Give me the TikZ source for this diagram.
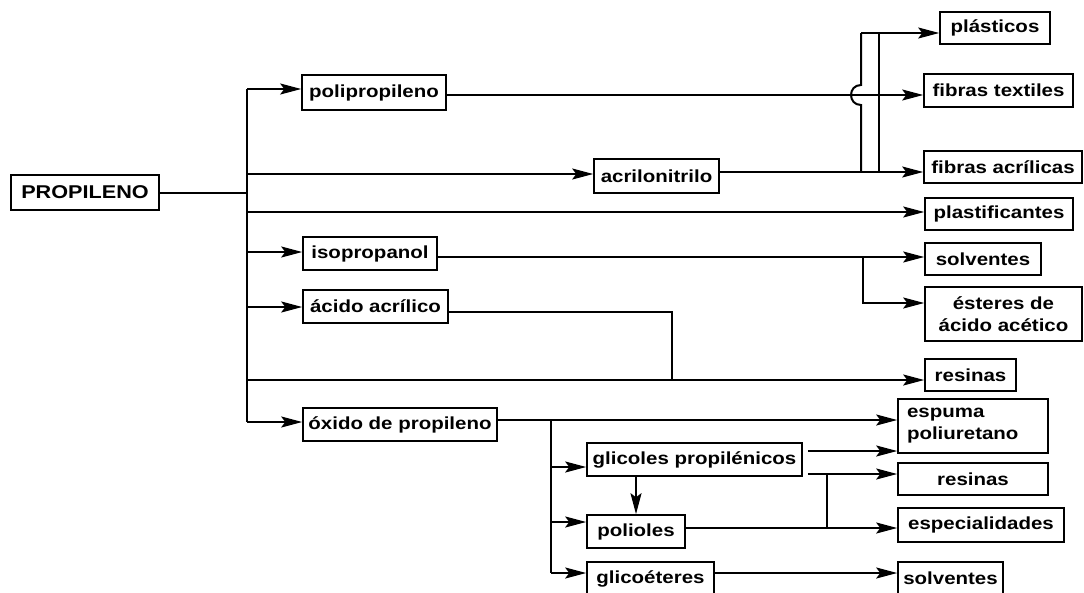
\documentclass[tikz,border=0pt]{standalone}
\usepackage{fontspec}
\setmainfont{Liberation Sans}[FakeStretch=1.17]
\usetikzlibrary{arrows.meta}
\begin{document}
\begin{tikzpicture}[x=1pt,y=-1pt,
  box/.style={draw, line width=1.6pt, inner sep=0pt,
    font=\fontsize{17.5}{22}\selectfont\bfseries},
  wire/.style={line width=2pt},
  arr/.style={wire, -{Stealth[length=21pt,width=11pt,inset=4pt]}},
]
\fill[white] (0,0) rectangle (1084,592);
\useasboundingbox (0,0) rectangle (1084,592);

% ---- raw material and first products
\node[box, minimum width=148pt, minimum height=35pt, font=\fontsize{18.5}{22}\selectfont\bfseries] (prop) at (85,192.5) {PROPILENO};
\node[box, minimum width=144pt, minimum height=35pt] (pp)  at (374,92.5)  {polipropileno};
\node[box, minimum width=125pt, minimum height=34pt] (acn) at (656.5,176) {acrilonitrilo};
\node[box, minimum width=134pt, minimum height=33pt] (iso) at (370,253.5) {isopropanol};
\node[box, minimum width=145pt, minimum height=33pt] (aa)  at (375.5,306.5) {ácido acrílico};
\node[box, minimum width=194pt, minimum height=33pt] (ox)  at (400,424.5) {óxido de propileno};

% ---- derivatives of propylene oxide
\node[box, minimum width=215pt, minimum height=33pt] (gp)  at (694.5,459.5) {glicoles propilénicos};
\node[box, minimum width=98pt,  minimum height=33pt] (pol) at (636,531.5) {polioles};
\node[box, minimum width=127pt, minimum height=33pt] (ge)  at (650.5,578.5) {glicoéteres};

% ---- end uses
\node[box, minimum width=110pt, minimum height=32pt] (pla)  at (995,28)     {plásticos};
\node[box, minimum width=149pt, minimum height=33pt] (ft)   at (998.5,90.5) {fibras textiles};
\node[box, minimum width=158pt, minimum height=32pt] (fa)   at (1003,167)   {fibras acrílicas};
\node[box, minimum width=148pt, minimum height=32pt] (pf)   at (999,214)    {plastificantes};
\node[box, minimum width=116pt, minimum height=32pt] (sv1)  at (983,259)    {solventes};
\node[box, minimum width=157pt, minimum height=54pt, align=center] (est) at (1003.5,314) {ésteres de\\ácido acético};
\node[box, minimum width=91pt,  minimum height=32pt] (res1) at (970.5,375)  {resinas};
\node[box, minimum width=150pt, minimum height=54pt, text width=132pt, align=left] (esp) at (973,426) {espuma\\poliuretano};
\node[box, minimum width=150pt, minimum height=32pt] (res2) at (973,479)    {resinas};
\node[box, minimum width=166pt, minimum height=34pt] (espc) at (981,525)    {especialidades};
\node[box, minimum width=105pt, minimum height=33pt] (sv2)  at (950.5,578.5) {solventes};

% ---- main trunk
\coordinate (tTop) at (247,89);
\coordinate (tBot) at (247,422);
\coordinate (t2) at (247,174);
\coordinate (t3) at (247,212);
\coordinate (t4) at (247,252);
\coordinate (t5) at (247,307);
\coordinate (t6) at (247,380);
\draw[wire] (prop.east) -- (prop.east -| tTop);
\draw[wire] (tTop) -- (tBot);
\draw[arr] (tTop) -- (tTop -| pp.west);
\draw[arr] (t2) -- (t2 -| acn.west);
\draw[arr] (t3) -- (t3 -| pf.west);
\draw[arr] (t4) -- (t4 -| iso.west);
\draw[arr] (t5) -- (t5 -| aa.west);
\draw[arr] (t6) -- (t6 -| res1.west);
\draw[arr] (tBot) -- (tBot -| ox.west);

% ---- polipropileno and acrilonitrilo to fibres and plastics
\coordinate (p1) at ([yshift=-2.5pt]pp.east);
\draw[arr] (p1) -- (p1 -| ft.west);
\coordinate (a1) at ([yshift=4pt]acn.east);
\draw[arr] (a1) -- (a1 -| fa.west);
\coordinate (vLb) at (861,172);
\coordinate (vLt) at (861,33);
\coordinate (vRb) at (879,172);
\coordinate (vRt) at (879,33);
\draw[wire] (vLb) -- (861,105) .. controls (847.7,105) and (847.7,85) .. (861,85) -- (vLt);
\draw[wire] (vRt) -- (vRb);
\draw[arr] (vLt) -- (vLt -| pla.west);

% ---- isopropanol
\coordinate (i1) at ([yshift=-3.5pt]iso.east);
\draw[arr] (i1) -- (i1 -| sv1.west);
\coordinate (i2) at (863,257);
\draw[arr] (i2) |- ([yshift=11pt]est.west);

% ---- acido acrilico joins the resin line
\coordinate (j6) at (672,380);
\draw[wire] ([yshift=-5.5pt]aa.east) -| (j6);

% ---- oxido de propileno
\coordinate (o1) at ([yshift=4.5pt]ox.east);
\draw[arr] (o1) -- (o1 -| esp.west);
\coordinate (s0) at (551,420);
\coordinate (s1) at (551,467);
\coordinate (s2) at (551,522);
\coordinate (s3) at (551,573);
\draw[wire] (s0) -- (s3);
\draw[arr] (s1) -- (s1 -| gp.west);
\draw[arr] (s2) -- (s2 -| pol.west);
\draw[arr] (s3) -- (s3 -| ge.west);

% ---- glicoles, polioles, glicoeteres
\coordinate (g1) at ([xshift=5pt,yshift=8.5pt]gp.east);
\coordinate (g2) at ([xshift=5pt,yshift=-14.5pt]gp.east);
\draw[arr] (g1) -- (g1 -| esp.west);
\draw[arr] (g2) -- (g2 -| res2.west);
\draw[arr] (gp.south -| pol.north) -- (pol.north);
\coordinate (q1) at ([yshift=3.5pt]pol.east);
\draw[arr] (q1) -- (q1 -| espc.west);
\coordinate (k1) at (827,474);
\coordinate (k2) at (827,528);
\draw[wire] (k1) -- (k2);
\coordinate (r1) at ([yshift=5.5pt]ge.east);
\draw[arr] (r1) -- (r1 -| sv2.west);
\end{tikzpicture}
\end{document}
